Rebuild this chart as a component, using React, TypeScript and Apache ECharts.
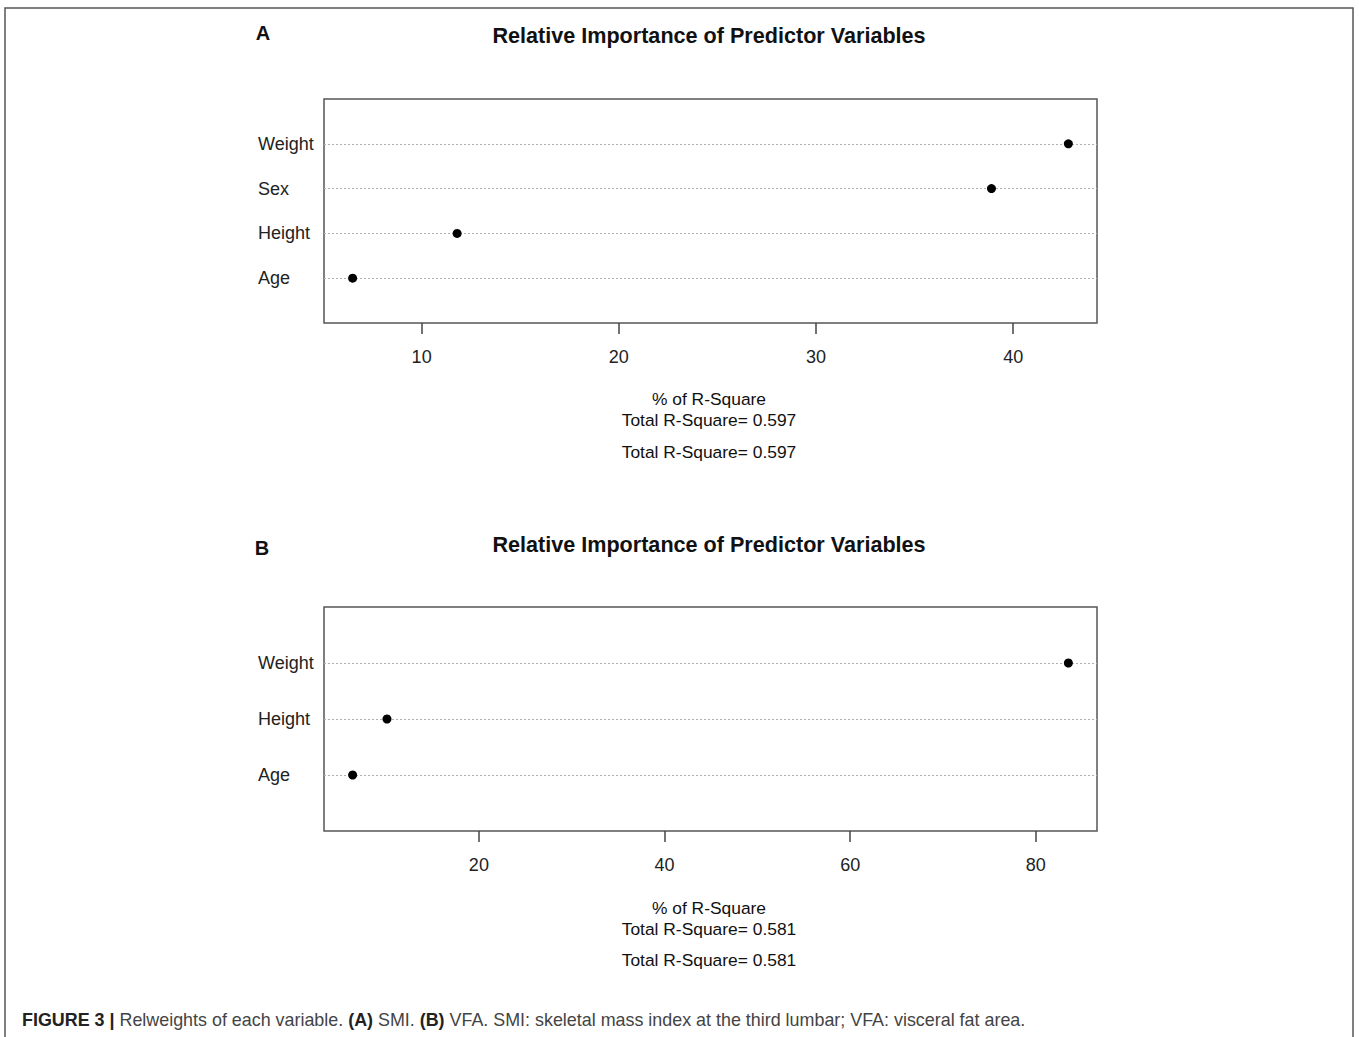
import React, { useEffect, useRef } from "react";
import * as echarts from "echarts";

// Panel A (SMI)
const catsA = ["Age", "Height", "Sex", "Weight"];
const valsA = [6.5, 11.8, 38.9, 42.8];
const ticksA = [10, 20, 30, 40];
const totalA = "0.597";

// Panel B (VFA)
const catsB = ["Age", "Height", "Weight"];
const valsB = [6.4, 10.1, 83.5];
const ticksB = [20, 40, 60, 80];
const totalB = "0.581";

const titleText = "Relative Importance of Predictor Variables";
const xTitle = "% of R-Square";
const captionBold = "FIGURE 3 |";
const captionRest =
  " Relweights of each variable. {b|(A)} SMI. {b|(B)} VFA. SMI: skeletal mass index at the third lumbar; VFA: visceral fat area.";

const FONT = "'Liberation Sans', Arial, sans-serif";

function padCats(c: string[]) {
  return ["", ...c, ""];
}

function xlim(v: number[]) {
  const lo = Math.min(...v);
  const hi = Math.max(...v);
  const d = (hi - lo) * 0.04;
  return [lo - d, hi + d];
}

export default function App() {
  const ref = useRef<HTMLDivElement>(null);
  useEffect(() => {
    document.body.style.margin = "0";
    const chart = echarts.init(ref.current!, undefined, { renderer: "svg" });
    const [aMin, aMax] = xlim(valsA);
    const [bMin, bMax] = xlim(valsB);
    const gridStyle = {
      left: 324,
      width: 773,
      height: 224,
      show: true,
      borderColor: "#555",
      borderWidth: 1.5,
      backgroundColor: "transparent",
    };
    const mkX = (idx: number, min: number, max: number, ticks: number[]) => ({
      type: "value",
      gridIndex: idx,
      min,
      max,
      position: "bottom",
      axisLine: { show: false },
      axisTick: {
        show: true,
        length: 11,
        inside: false,
        customValues: ticks,
        lineStyle: { color: "#444", width: 1.5 },
      },
      axisLabel: {
        show: true,
        customValues: ticks,
        margin: 25,
        fontSize: 18,
        fontFamily: FONT,
        color: "#222",
      },
      splitLine: { show: false },
    });
    const mkY = (idx: number, cats: string[]) => ({
      type: "category",
      gridIndex: idx,
      data: padCats(cats),
      boundaryGap: false,
      axisLine: { show: false },
      axisTick: { show: false },
      axisLabel: {
        show: true,
        align: "left",
        margin: 66,
        fontSize: 18,
        fontFamily: FONT,
        color: "#222",
        interval: 0,
        padding: [3, 0, 0, 0],
      },
      splitLine: {
        show: true,
        interval: (i: number, v: string) => v !== "",
        lineStyle: { color: "#b0b0b0", width: 1, type: [2, 2] },
      },
    });
    const textStyle = (x: number, y: number, text: string, size: number, bold = false) => ({
      type: "text",
      x,
      y,
      style: {
        text,
        fontSize: size,
        fontFamily: FONT,
        fontWeight: bold ? "bold" : "normal",
        fill: "#111",
        align: "center",
        verticalAlign: "middle",
      },
    });
    const dot = { symbol: "circle", symbolSize: 9, itemStyle: { color: "#000", opacity: 1 } };
    chart.setOption({
      animation: false,
      backgroundColor: "#fff",
      grid: [
        { ...gridStyle, top: 99 },
        { ...gridStyle, top: 607 },
      ],
      xAxis: [mkX(0, aMin, aMax, ticksA), mkX(1, bMin, bMax, ticksB)],
      yAxis: [mkY(0, catsA), mkY(1, catsB)],
      series: [
        {
          type: "scatter",
          xAxisIndex: 0,
          yAxisIndex: 0,
          ...dot,
          data: catsA.map((c, i) => [valsA[i], c]),
          z: 5,
        },
        {
          type: "scatter",
          xAxisIndex: 1,
          yAxisIndex: 1,
          ...dot,
          data: catsB.map((c, i) => [valsB[i], c]),
          z: 5,
        },
      ],
      graphic: [
        {
          type: "rect",
          shape: { x: 5, y: 8, width: 1348, height: 1100 },
          style: { fill: "none", stroke: "#555", lineWidth: 1.5 },
          silent: true,
        },
        textStyle(263, 33, "A", 20, true),
        textStyle(709, 35, titleText, 21.6, true),
        textStyle(709, 399, xTitle, 17.4),
        textStyle(709, 420, "Total R-Square= " + totalA, 17.4),
        textStyle(709, 452, "Total R-Square= " + totalA, 17.4),
        textStyle(262, 548, "B", 20, true),
        textStyle(709, 544, titleText, 21.6, true),
        textStyle(709, 908, xTitle, 17.4),
        textStyle(709, 929, "Total R-Square= " + totalB, 17.4),
        textStyle(709, 960, "Total R-Square= " + totalB, 17.4),
        {
          type: "text",
          x: 22,
          y: 1020,
          style: {
            text: "{b|" + captionBold + "}" + captionRest,
            fontSize: 17.9,
            fontFamily: FONT,
            fill: "#444",
            align: "left",
            verticalAlign: "middle",
            rich: {
              b: { fontWeight: "bold", fill: "#222", fontSize: 17.9, fontFamily: FONT },
            },
          },
        },
      ],
    });
    return () => chart.dispose();
  }, []);
  return (
    <div
      ref={ref}
      style={{ position: "absolute", left: 0, top: 0, width: 1359, height: 1037 }}
    />
  );
}
